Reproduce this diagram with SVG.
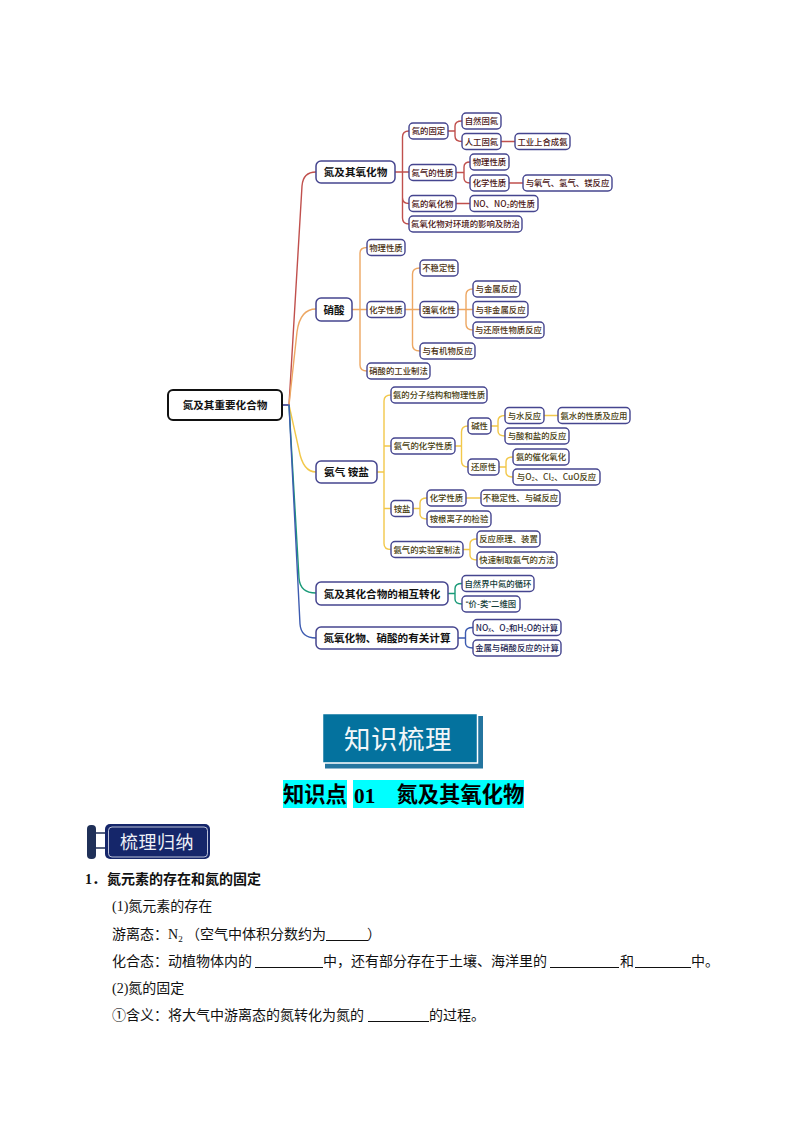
<svg xmlns="http://www.w3.org/2000/svg" width="794" height="1123" viewBox="0 0 794 1123">
<style>
text{font-family:"Noto Sans CJK SC","Liberation Sans",sans-serif}
.c{fill:none;stroke-width:1.4}
.cr{stroke:#c0504d}.co{stroke:#eda763}.cy{stroke:#f2c84b}.ct{stroke:#1a9a78}.cb{stroke:#3d5bb0}
.n rect{fill:#fff;stroke:#45458f;stroke-width:1.4}
.n text{font-size:8.4px;font-weight:500;text-anchor:middle}
.r text{fill:#4a1414}.o text{fill:#4a3010}.y text{fill:#474010}.t text{fill:#123c38}.b text{fill:#1c2450}
.l1 rect{stroke-width:1.5}
.l1 text{font-size:10.6px;font-weight:700;fill:#111}
.body{font-family:"Liberation Serif","Noto Sans CJK SC",serif;font-size:14px;fill:#111}
.u{stroke:#111;stroke-width:1;fill:none}
</style>
<rect width="794" height="1123" fill="#fff"/>
<g id="connectors">
<path class="c cr" d="M282 405H289L302 186Q303 172 316 172"/>
<path class="c co" d="M289 405L297 332Q300 309 316 309"/>
<path class="c cy" d="M289 405L299 450Q303 472 316 472"/>
<path class="c ct" d="M289 405L299 578Q300 593 316 593"/>
<path class="c cb" d="M282 405H289L300 624Q301 638 316 638"/>
<path class="c cr" d="M395 172H409M409 131Q402.500 131 402.500 137V218Q402.500 224 409 224M402.500 197.500Q402.500 203.500 409 203.500"/>
<path class="c cr" d="M448 131H455M462 121Q455 121 455 126V136Q455 141.500 462 141.500M501 141.500H515"/>
<path class="c cr" d="M456 172.500H464M470 162Q464 162 464 167V178Q464 183 470 183M509 183H523M456 203.500H470"/>
<path class="c co" d="M352 309.500H367M367 247.500Q360 247.500 360 253V365Q360 371 367 371"/>
<path class="c co" d="M405 309.500H420M420 268Q412.500 268 412.500 274V345Q412.500 351 420 351"/>
<path class="c co" d="M458 309.500H473M473 289Q466 289 466 295V324Q466 330 473 330"/>
<path class="c cy" d="M377 472H384M391 395Q384 395 384 401V543.500Q384 549.500 391 549.500M384 446H391M384 508.500H391"/>
<path class="c cy" d="M455 446H461.500M468 426Q461.500 426 461.500 432V461Q461.500 467 468 467"/>
<path class="c cy" d="M491 426H498M505 415.500Q498 415.500 498 421V431Q498 436 505 436M544 415.500H558"/>
<path class="c cy" d="M499 467H506M513 457Q506 457 506 462V472Q506 477 513 477"/>
<path class="c cy" d="M413 508.500H420M427 498Q420 498 420 503V514Q420 519 427 519M466 498H481"/>
<path class="c cy" d="M463 549.500H470M477 539Q470 539 470 544V555Q470 560 477 560"/>
<path class="c ct" d="M448 593.500H455M462 583.500Q455 583.500 455 588.500V599Q455 604 462 604"/>
<path class="c cb" d="M458 638H465.500M473 627.500Q465.500 627.500 465.500 632.500V643Q465.500 648 473 648"/>
</g>
<g id="root" class="n"><rect x="168" y="390" width="114" height="30" rx="5" style="stroke:#111;stroke-width:2"/><text x="225" y="409" style="font-size:10.600px;font-weight:700;fill:#111">氮及其重要化合物</text></g>
<g class="n r">
<g id="a0" class="l1"><rect x="316" y="161" width="79" height="22" rx="5"/><text x="355.500" y="176">氮及其氧化物</text></g>
<g id="a1"><rect x="409" y="123" width="39" height="16" rx="4"/><text x="428.500" y="134">氮的固定</text></g>
<g id="a2"><rect x="462" y="113" width="39" height="16" rx="4"/><text x="481.500" y="124">自然固氮</text></g>
<g id="a3"><rect x="462" y="133.500" width="39" height="16" rx="4"/><text x="481.500" y="144.500">人工固氮</text></g>
<g id="a4"><rect x="515" y="133.500" width="55" height="16" rx="4"/><text x="542.500" y="144.500">工业上合成氨</text></g>
<g id="a5"><rect x="409" y="164.500" width="47" height="16" rx="4"/><text x="432.500" y="175.500">氮气的性质</text></g>
<g id="a6"><rect x="470" y="154" width="39" height="16" rx="4"/><text x="489.500" y="165">物理性质</text></g>
<g id="a7"><rect x="470" y="175" width="39" height="16" rx="4"/><text x="489.500" y="186">化学性质</text></g>
<g id="a8"><rect x="523" y="175" width="89" height="16" rx="4"/><text x="567.500" y="186">与氧气、氢气、镁反应</text></g>
<g id="a9"><rect x="409" y="195.500" width="47" height="16" rx="4"/><text x="432.500" y="206.500">氮的氧化物</text></g>
<g id="a10"><rect x="470" y="195.500" width="68" height="16" rx="4"/><text x="504" y="206.500">NO、NO₂的性质</text></g>
<g id="a11"><rect x="409" y="216" width="113" height="16" rx="4"/><text x="465.500" y="227">氮氧化物对环境的影响及防治</text></g>
</g>
<g class="n o">
<g id="b0" class="l1"><rect x="316" y="298" width="36" height="23" rx="5"/><text x="334" y="313.500">硝酸</text></g>
<g id="b1"><rect x="367" y="239.500" width="38" height="16" rx="4"/><text x="386" y="250.500">物理性质</text></g>
<g id="b2"><rect x="367" y="301.500" width="38" height="16" rx="4"/><text x="386" y="312.500">化学性质</text></g>
<g id="b3"><rect x="420" y="260" width="38" height="16" rx="4"/><text x="439" y="271">不稳定性</text></g>
<g id="b4"><rect x="420" y="301.500" width="38" height="16" rx="4"/><text x="439" y="312.500">强氧化性</text></g>
<g id="b5"><rect x="473" y="281" width="47" height="16" rx="4"/><text x="496.500" y="292">与金属反应</text></g>
<g id="b6"><rect x="473" y="301.500" width="55" height="16" rx="4"/><text x="500.500" y="312.500">与非金属反应</text></g>
<g id="b7"><rect x="473" y="322" width="71" height="16" rx="4"/><text x="508.500" y="333">与还原性物质反应</text></g>
<g id="b8"><rect x="420" y="343" width="55" height="16" rx="4"/><text x="447.500" y="354">与有机物反应</text></g>
<g id="b9"><rect x="367" y="363" width="63" height="16" rx="4"/><text x="398.500" y="374">硝酸的工业制法</text></g>
</g>
<g class="n y">
<g id="c0" class="l1"><rect x="316" y="461" width="61" height="22" rx="5"/><text x="346.500" y="476">氨气 铵盐</text></g>
<g id="c1"><rect x="391" y="387" width="96" height="16" rx="4"/><text x="439" y="398">氨的分子结构和物理性质</text></g>
<g id="c2"><rect x="391" y="438" width="64" height="16" rx="4"/><text x="423" y="449">氨气的化学性质</text></g>
<g id="c3"><rect x="468" y="418" width="23" height="16" rx="4"/><text x="479.500" y="429">碱性</text></g>
<g id="c4"><rect x="505" y="407.500" width="39" height="16" rx="4"/><text x="524.500" y="418.500">与水反应</text></g>
<g id="c5"><rect x="558" y="407.500" width="72" height="16" rx="4"/><text x="594" y="418.500">氨水的性质及应用</text></g>
<g id="c6"><rect x="505" y="428" width="64" height="16" rx="4"/><text x="537" y="439">与酸和盐的反应</text></g>
<g id="c7"><rect x="468" y="459" width="31" height="16" rx="4"/><text x="483.500" y="470">还原性</text></g>
<g id="c8"><rect x="513" y="449" width="56" height="16" rx="4"/><text x="541" y="460">氨的催化氧化</text></g>
<g id="c9"><rect x="513" y="469" width="87" height="16" rx="4"/><text x="556.500" y="480">与O₂、Cl₂、CuO反应</text></g>
<g id="c10"><rect x="391" y="500.500" width="22" height="16" rx="4"/><text x="402" y="511.500">铵盐</text></g>
<g id="c11"><rect x="427" y="490" width="39" height="16" rx="4"/><text x="446.500" y="501">化学性质</text></g>
<g id="c12"><rect x="481" y="490" width="79" height="16" rx="4"/><text x="520.500" y="501">不稳定性、与碱反应</text></g>
<g id="c13"><rect x="427" y="511" width="64" height="16" rx="4"/><text x="459" y="522">铵根离子的检验</text></g>
<g id="c14"><rect x="391" y="541.500" width="72" height="16" rx="4"/><text x="427" y="552.500">氨气的实验室制法</text></g>
<g id="c15"><rect x="477" y="531" width="63" height="16" rx="4"/><text x="508.500" y="542">反应原理、装置</text></g>
<g id="c16"><rect x="477" y="552" width="80" height="16" rx="4"/><text x="517" y="563">快速制取氨气的方法</text></g>
</g>
<g class="n t">
<g id="d0" class="l1"><rect x="316" y="582" width="132" height="23" rx="5"/><text x="382" y="597.500">氮及其化合物的相互转化</text></g>
<g id="d1"><rect x="462" y="575.500" width="72" height="16" rx="4"/><text x="498" y="586.500">自然界中氮的循环</text></g>
<g id="d2"><rect x="462" y="596" width="58" height="16" rx="4"/><text x="491" y="607"><tspan style="font-family:'Liberation Sans',sans-serif">“</tspan>价-类<tspan style="font-family:'Liberation Sans',sans-serif">”</tspan>二维图</text></g>
</g>
<g class="n b">
<g id="e0" class="l1"><rect x="316" y="627" width="142" height="22" rx="5"/><text x="387" y="642">氮氧化物、硝酸的有关计算</text></g>
<g id="e1"><rect x="473" y="619.500" width="88" height="16" rx="4"/><text x="517" y="630.500">NOₓ、O₂和H₂O的计算</text></g>
<g id="e2"><rect x="473" y="640" width="88" height="16" rx="4"/><text x="517" y="651">金属与硝酸反应的计算</text></g>
</g>
<g id="banner">
<rect x="325" y="716" width="158" height="52.500" fill="#24759f"/>
<rect x="322.500" y="713.500" width="155" height="49.500" fill="#04729e" stroke="#fff" stroke-width="1.500"/>
<text x="398" y="749" font-size="26.500" fill="#f2f7f9" text-anchor="middle" letter-spacing="0.500">知识梳理</text>
</g>
<g id="title">
<rect x="283" y="780" width="64" height="28" fill="#0ff"/>
<rect x="353" y="780" width="171" height="28" fill="#0ff"/>
<text class="body" y="802" style="font-size:21.300px;font-weight:700;fill:#000"><tspan x="283">知识点</tspan><tspan x="354" y="803">01</tspan><tspan x="396.500" y="802">氮及其氧化物</tspan></text>
</g>
<g id="badge">
<path d="M96 833H106M96 848H106" stroke="#1c2c55" stroke-width="1.500"/>
<rect x="87" y="825" width="9" height="34" rx="4" fill="#1f3058"/>
<rect x="105" y="824" width="105" height="35" rx="5" fill="#15266a"/>
<rect x="108.500" y="827" width="99" height="30" rx="3.500" fill="none" stroke="#e4e8f4" stroke-width="0.800"/>
<text x="157" y="849" font-size="18" fill="#eef0f6" text-anchor="middle" letter-spacing="0.500">梳理归纳</text>
</g>
<g id="content">
<text class="body" y="884" style="font-weight:700"><tspan x="85">1</tspan><tspan x="92">．</tspan><tspan x="107">氮元素的存在和氮的固定</tspan></text>
<text class="body" x="112" y="911">(1)氮元素的存在</text>
<text class="body" y="939"><tspan x="112">游离态：N</tspan><tspan font-size="9" dy="3">2</tspan><tspan x="186" dy="-3">（空气中体积分数约为</tspan><tspan x="367">）</tspan></text>
<path class="u" d="M326 940.500H368"/>
<text class="body" y="966"><tspan x="112">化合态：动植物体内的</tspan><tspan x="323">中，还有部分存在于土壤、海洋里的</tspan><tspan x="620">和</tspan><tspan x="691">中。</tspan></text>
<path class="u" d="M255 967.500H323M550 967.500H619M635 967.500H691"/>
<text class="body" x="112" y="993">(2)氮的固定</text>
<text class="body" y="1020"><tspan x="112">①含义：将大气中游离态的氮转化为氮的</tspan><tspan x="429">的过程。</tspan></text>
<path class="u" d="M368 1021.500H429"/>
</g>
</svg>
